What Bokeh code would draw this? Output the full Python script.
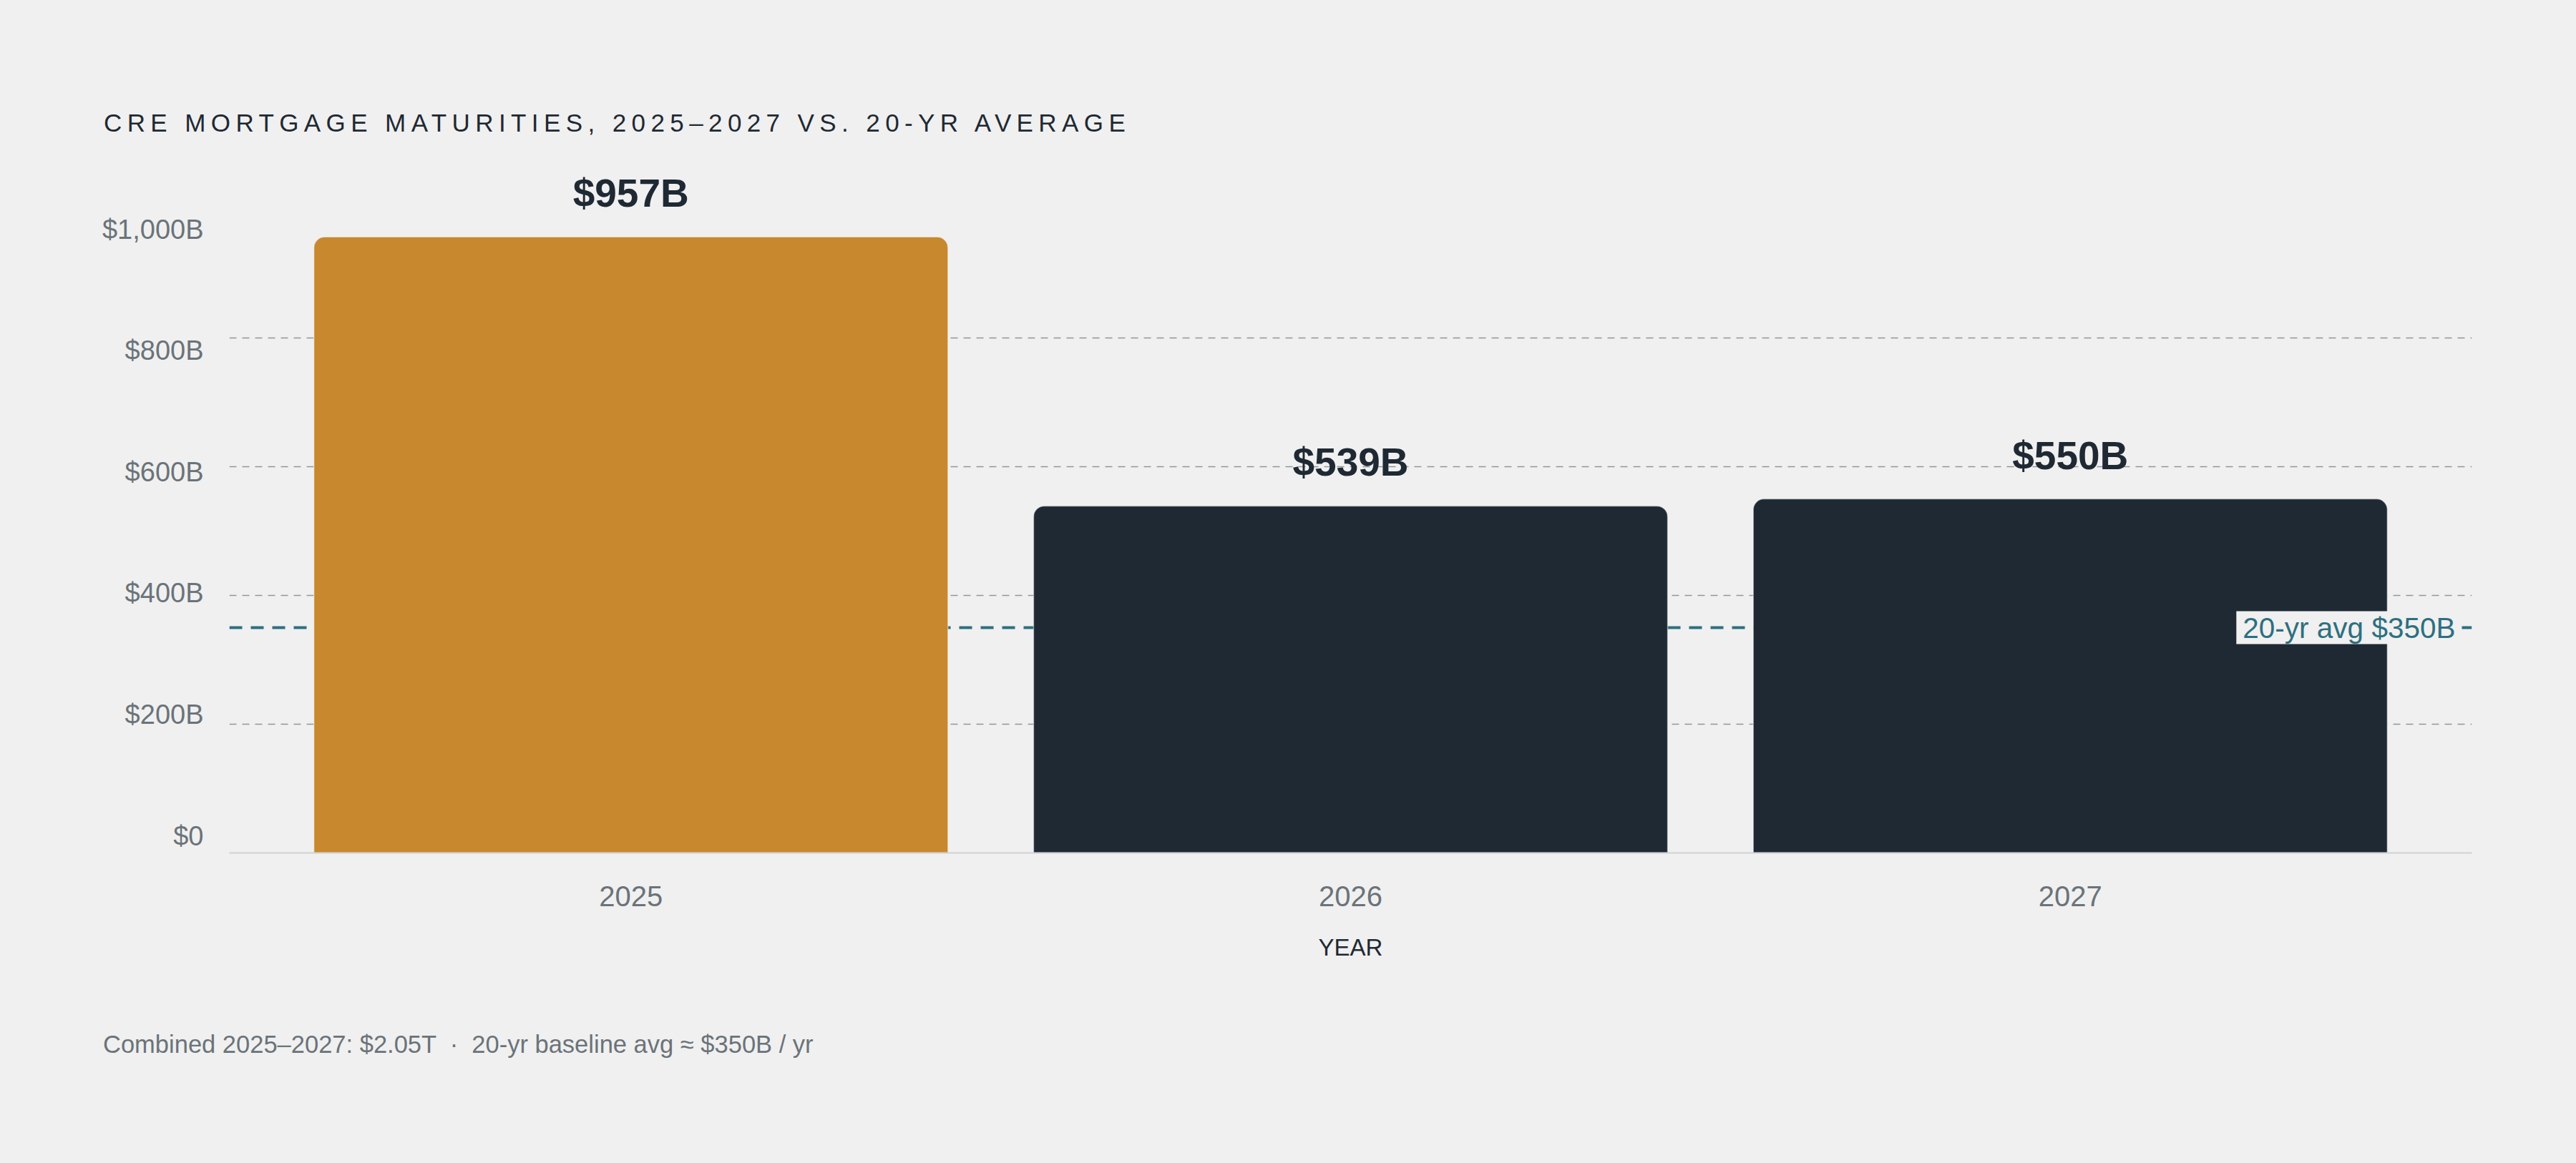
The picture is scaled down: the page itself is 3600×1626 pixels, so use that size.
from bokeh.plotting import figure
from bokeh.models import (Range1d, LinearAxis, FixedTicker, Span, Label, LabelSet,
                          ColumnDataSource, Div, GlobalInlineStyleSheet)
from bokeh.core.properties import value
from bokeh.layouts import column
from bokeh.embed import file_html
from bokeh.resources import INLINE

# ---- data ----
years = ["2025", "2026", "2027"]
maturities = [957, 539, 550]          # $B
bar_colors = ["#c8882e", "#1f2933", "#1f2933"]
avg_20yr = 350                        # $B
ytick_values = [0, 200, 400, 600, 800, 1000]
ytick_labels = ["$0", "$200B", "$400B", "$600B", "$800B", "$1,000B"]
grid_values = [200, 400, 600, 800]
title_text = "CRE MORTGAGE MATURITIES, 2025\u20132027 VS. 20-YR AVERAGE"
footer_text = "Combined 2025\u20132027: $2.05T \u00a0\u00b7\u00a0 20-yr baseline avg \u2248 $350B / yr"
avg_text = "20-yr avg $350B"

BG = "#f0f0f0"
FONT = "Liberation Sans"

xs = list(range(len(years)))
src = ColumnDataSource(dict(
    x=xs, top=maturities, color=bar_colors,
    label=["${}B".format(v) for v in maturities],
))

X_START, X_END = -0.558, 2.558
Y_TOP = 1069
p = figure(width=3592, height=1172, output_backend="svg", toolbar_location=None,
           x_range=Range1d(X_START, X_END), y_range=Range1d(0, Y_TOP),
           y_axis_location=None,
           min_border_left=320, min_border_right=138, min_border_top=30, min_border_bottom=180,
           background_fill_color=BG, border_fill_color=BG, outline_line_color=None)

# tick-label axis on its own range (labels sit slightly off the gridlines, as in the source)
p.extra_y_ranges = {"lab": Range1d(-28.3, 1106.5)}
yax = LinearAxis(y_range_name="lab", ticker=FixedTicker(ticks=ytick_values))
yax.major_label_overrides = {v: t for v, t in zip(ytick_values, ytick_labels)}
yax.axis_line_color = None
yax.major_tick_line_color = None
yax.minor_tick_line_color = None
yax.major_tick_out = 0
yax.major_label_standoff = 36
yax.major_label_text_font = FONT
yax.major_label_text_font_size = "38px"
yax.major_label_text_color = "#6b7379"
p.add_layout(yax, "left")

xax = p.xaxis[0]
xax.ticker = FixedTicker(ticks=xs)
xax.major_label_overrides = {i: y for i, y in zip(xs, years)}
xax.axis_line_color = "#cfd1d3"
xax.axis_line_width = 2
xax.major_tick_line_color = None
xax.minor_tick_line_color = None
xax.major_label_standoff = 40
xax.major_label_text_font = FONT
xax.major_label_text_font_size = "40px"
xax.major_label_text_color = "#6b7379"
xax.axis_label = "YEAR"
xax.axis_label_text_font = FONT
xax.axis_label_text_font_size = "33px"
xax.axis_label_text_font_style = "normal"
xax.axis_label_text_color = "#1f2933"
xax.axis_label_standoff = 36

p.xgrid.visible = False
p.ygrid.ticker = FixedTicker(ticks=grid_values)
p.ygrid.grid_line_color = "#8f969c"
p.ygrid.grid_line_width = 1.5
p.ygrid.grid_line_dash = "10 8"

avg_line = Span(location=avg_20yr, dimension="width", line_color="#2e6f80",
                line_width=4, line_dash="18 12", level="underlay")
p.add_layout(avg_line)

p.vbar(x="x", top="top", width=0.881, bottom=0, source=src, fill_color="color",
       line_color="white", line_alpha=0.45, line_width=1.5, border_radius=(15, 15, 0, 0))

labels = LabelSet(x="x", y="top", text="label", source=src, text_align="center",
                  text_baseline="alphabetic", y_offset=42, text_font=value(FONT),
                  text_font_style="bold", text_font_size="55px", text_color="#1f2933")
p.add_layout(labels)

avg_label = Label(x=X_END, y=avg_20yr, text=avg_text, text_align="right",
                  text_baseline="middle", x_offset=-23, text_font=FONT,
                  text_font_size="40.5px", text_color="#2e6f80",
                  background_fill_color=BG, padding=dict(left=9, right=0, top=0, bottom=0))
p.add_layout(avg_label)

title_div = Div(width=3592, height=200, margin=0, text=(
    '<div style="font-family:\'Liberation Sans\',Arial,sans-serif;font-size:35px;'
    'letter-spacing:7.4px;color:#1f2933;padding:152px 0 0 145px;line-height:40px;'
    'white-space:nowrap;">' + title_text + '</div>'))
footer_div = Div(width=3592, height=240, margin=0, text=(
    '<div style="font-family:\'Liberation Sans\',Arial,sans-serif;font-size:34.5px;'
    'color:#6b7379;padding:68px 0 0 144px;line-height:40px;white-space:nowrap;">'
    + footer_text + '</div>'))

layout = column(title_div, p, footer_div, spacing=0,
                stylesheets=[GlobalInlineStyleSheet(css="html, body { background: #f0f0f0 !important; margin: 0; }")])

open("out.html", "w").write(file_html(layout, INLINE))
